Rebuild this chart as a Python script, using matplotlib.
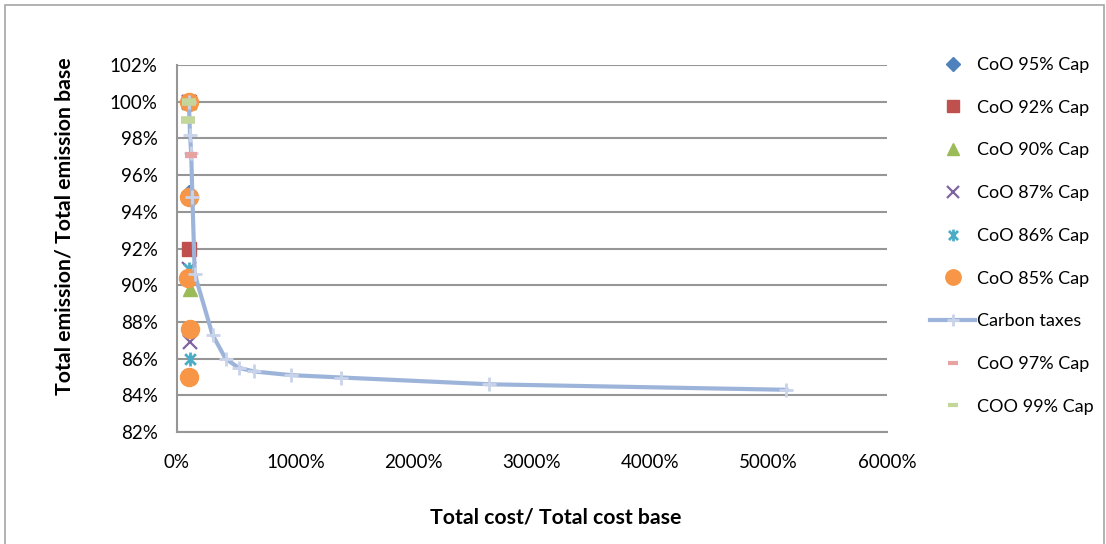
import matplotlib
matplotlib.use("Agg")
import matplotlib.pyplot as plt
import matplotlib.ticker as ticker
from matplotlib.patches import Rectangle
from matplotlib.path import Path

plt.rcParams['font.family'] = ['Lato', 'DejaVu Sans']

# carbon tax curve (cost %, emission %)
tax_cost = [100, 110, 120, 130, 150, 300, 410, 520, 650, 960, 1390, 2640, 5150]
tax_emis = [100, 98.2, 97.2, 94.8, 90.6, 87.3, 86.0, 85.5, 85.3, 85.1, 84.97, 84.6, 84.3]

# cap scenarios
cap95_cost = [100, 100]
cap95_emis = [100, 95.0]
cap92_cost = [100, 100]
cap92_emis = [100, 92.0]
cap90_cost = [100, 110]
cap90_emis = [100, 89.8]
cap87_cost = [100, 105, 110]
cap87_emis = [100, 90.9, 86.9]
cap86_cost = [100, 105, 110]
cap86_emis = [100, 90.9, 86.0]
cap85_cost = [100, 100, 95, 110, 105]
cap85_emis = [100, 94.8, 90.4, 87.6, 85.0]
cap97_cost = [100, 120]
cap97_emis = [100, 97.1]
cap99_cost = [100, 95]
cap99_emis = [100, 99.0]

# excel style star: an X with a vertical bar through it
star = Path([(-1, -1), (1, 1), (-1, 1), (1, -1), (0, -1.3), (0, 1.3)],
            [Path.MOVETO, Path.LINETO, Path.MOVETO, Path.LINETO, Path.MOVETO, Path.LINETO])

fig = plt.figure(figsize=(11.06, 5.44), dpi=100)
fig.patches.append(Rectangle((5 / 1106, -0.01), 1099 / 1106, 1 - 5 / 544 + 0.01,
                             transform=fig.transFigure, fill=False,
                             edgecolor='#a6a6a6', linewidth=1.2))
ax = fig.add_axes([177 / 1106, 1 - 432 / 544, 710 / 1106, 367 / 544])

ax.plot(cap95_cost, cap95_emis, 'D', color='#4F81BD', markersize=8.5, linestyle='none', label='CoO 95% Cap')
ax.plot(cap92_cost, cap92_emis, 's', color='#C0504D', markersize=10.5, linestyle='none', label='CoO 92% Cap')
ax.plot(cap90_cost, cap90_emis, '^', color='#9BBB59', markersize=10.5, linestyle='none', label='CoO 90% Cap')
ax.plot(cap87_cost, cap87_emis, 'x', color='#8064A2', markersize=9.5, mew=1.6, linestyle='none', label='CoO 87% Cap')
ax.plot(cap86_cost, cap86_emis, marker=star, color='#4BACC6', markersize=10, mew=2, linestyle='none', label='CoO 86% Cap')
ax.plot(cap85_cost, cap85_emis, 'o', color='#F79646', markersize=13, linestyle='none', label='CoO 85% Cap')
ax.plot(tax_cost, tax_emis, color='#9DB4DA', linewidth=3, solid_joinstyle='round',
        marker='+', markersize=10, mew=2, markeredgecolor='#c9d3ea', label='Carbon taxes')
ax.plot(cap97_cost, cap97_emis, '_', color='#E6A3A1', markersize=8, mew=4.5, linestyle='none', label='CoO 97% Cap')
ax.plot(cap99_cost, cap99_emis, '_', color='#C3D69B', markersize=10, mew=5.5, linestyle='none', label='COO 99% Cap')

ax.set_xlim(0, 6000)
ax.set_ylim(82, 102)
ax.xaxis.set_major_locator(ticker.MultipleLocator(1000))
ax.yaxis.set_major_locator(ticker.MultipleLocator(2))
ax.xaxis.set_major_formatter(ticker.FuncFormatter(lambda x, p: '%d%%' % x))
ax.yaxis.set_major_formatter(ticker.FuncFormatter(lambda y, p: '%d%%' % y))
ax.tick_params(length=0, labelsize=13.5)
ax.tick_params(axis='y', pad=14)
ax.tick_params(axis='x', pad=16)
ax.grid(axis='y', color='#969696', linewidth=1.5)
ax.set_axisbelow(True)
for side in ['top', 'right']:
    ax.spines[side].set_visible(False)
for side in ['left', 'bottom']:
    ax.spines[side].set_color('#969696')
    ax.spines[side].set_linewidth(1.5)

ax.set_xlabel('Total cost/ Total cost base', fontsize=15.3, fontweight='bold', labelpad=26)
ax.set_ylabel('Total emission/ Total emission base', fontsize=15.3, fontweight='bold', labelpad=25)
ax.xaxis.label.set_x(0.534)
ax.yaxis.label.set_y(0.561)

leg = ax.legend(loc='upper left', bbox_to_anchor=(930 / 1106, 1 - 57 / 544), bbox_transform=fig.transFigure,
                frameon=False, fontsize=13, labelspacing=1.48, handlelength=2.5,
                handletextpad=0.1, borderpad=0, borderaxespad=0, markerscale=0.85)
# the two dash markers look flatter in the key
for h in leg.legend_handles[-2:]:
    h.set_markersize(7)
    h.set_markeredgewidth(3)

fig.savefig('out.png', dpi=100)
